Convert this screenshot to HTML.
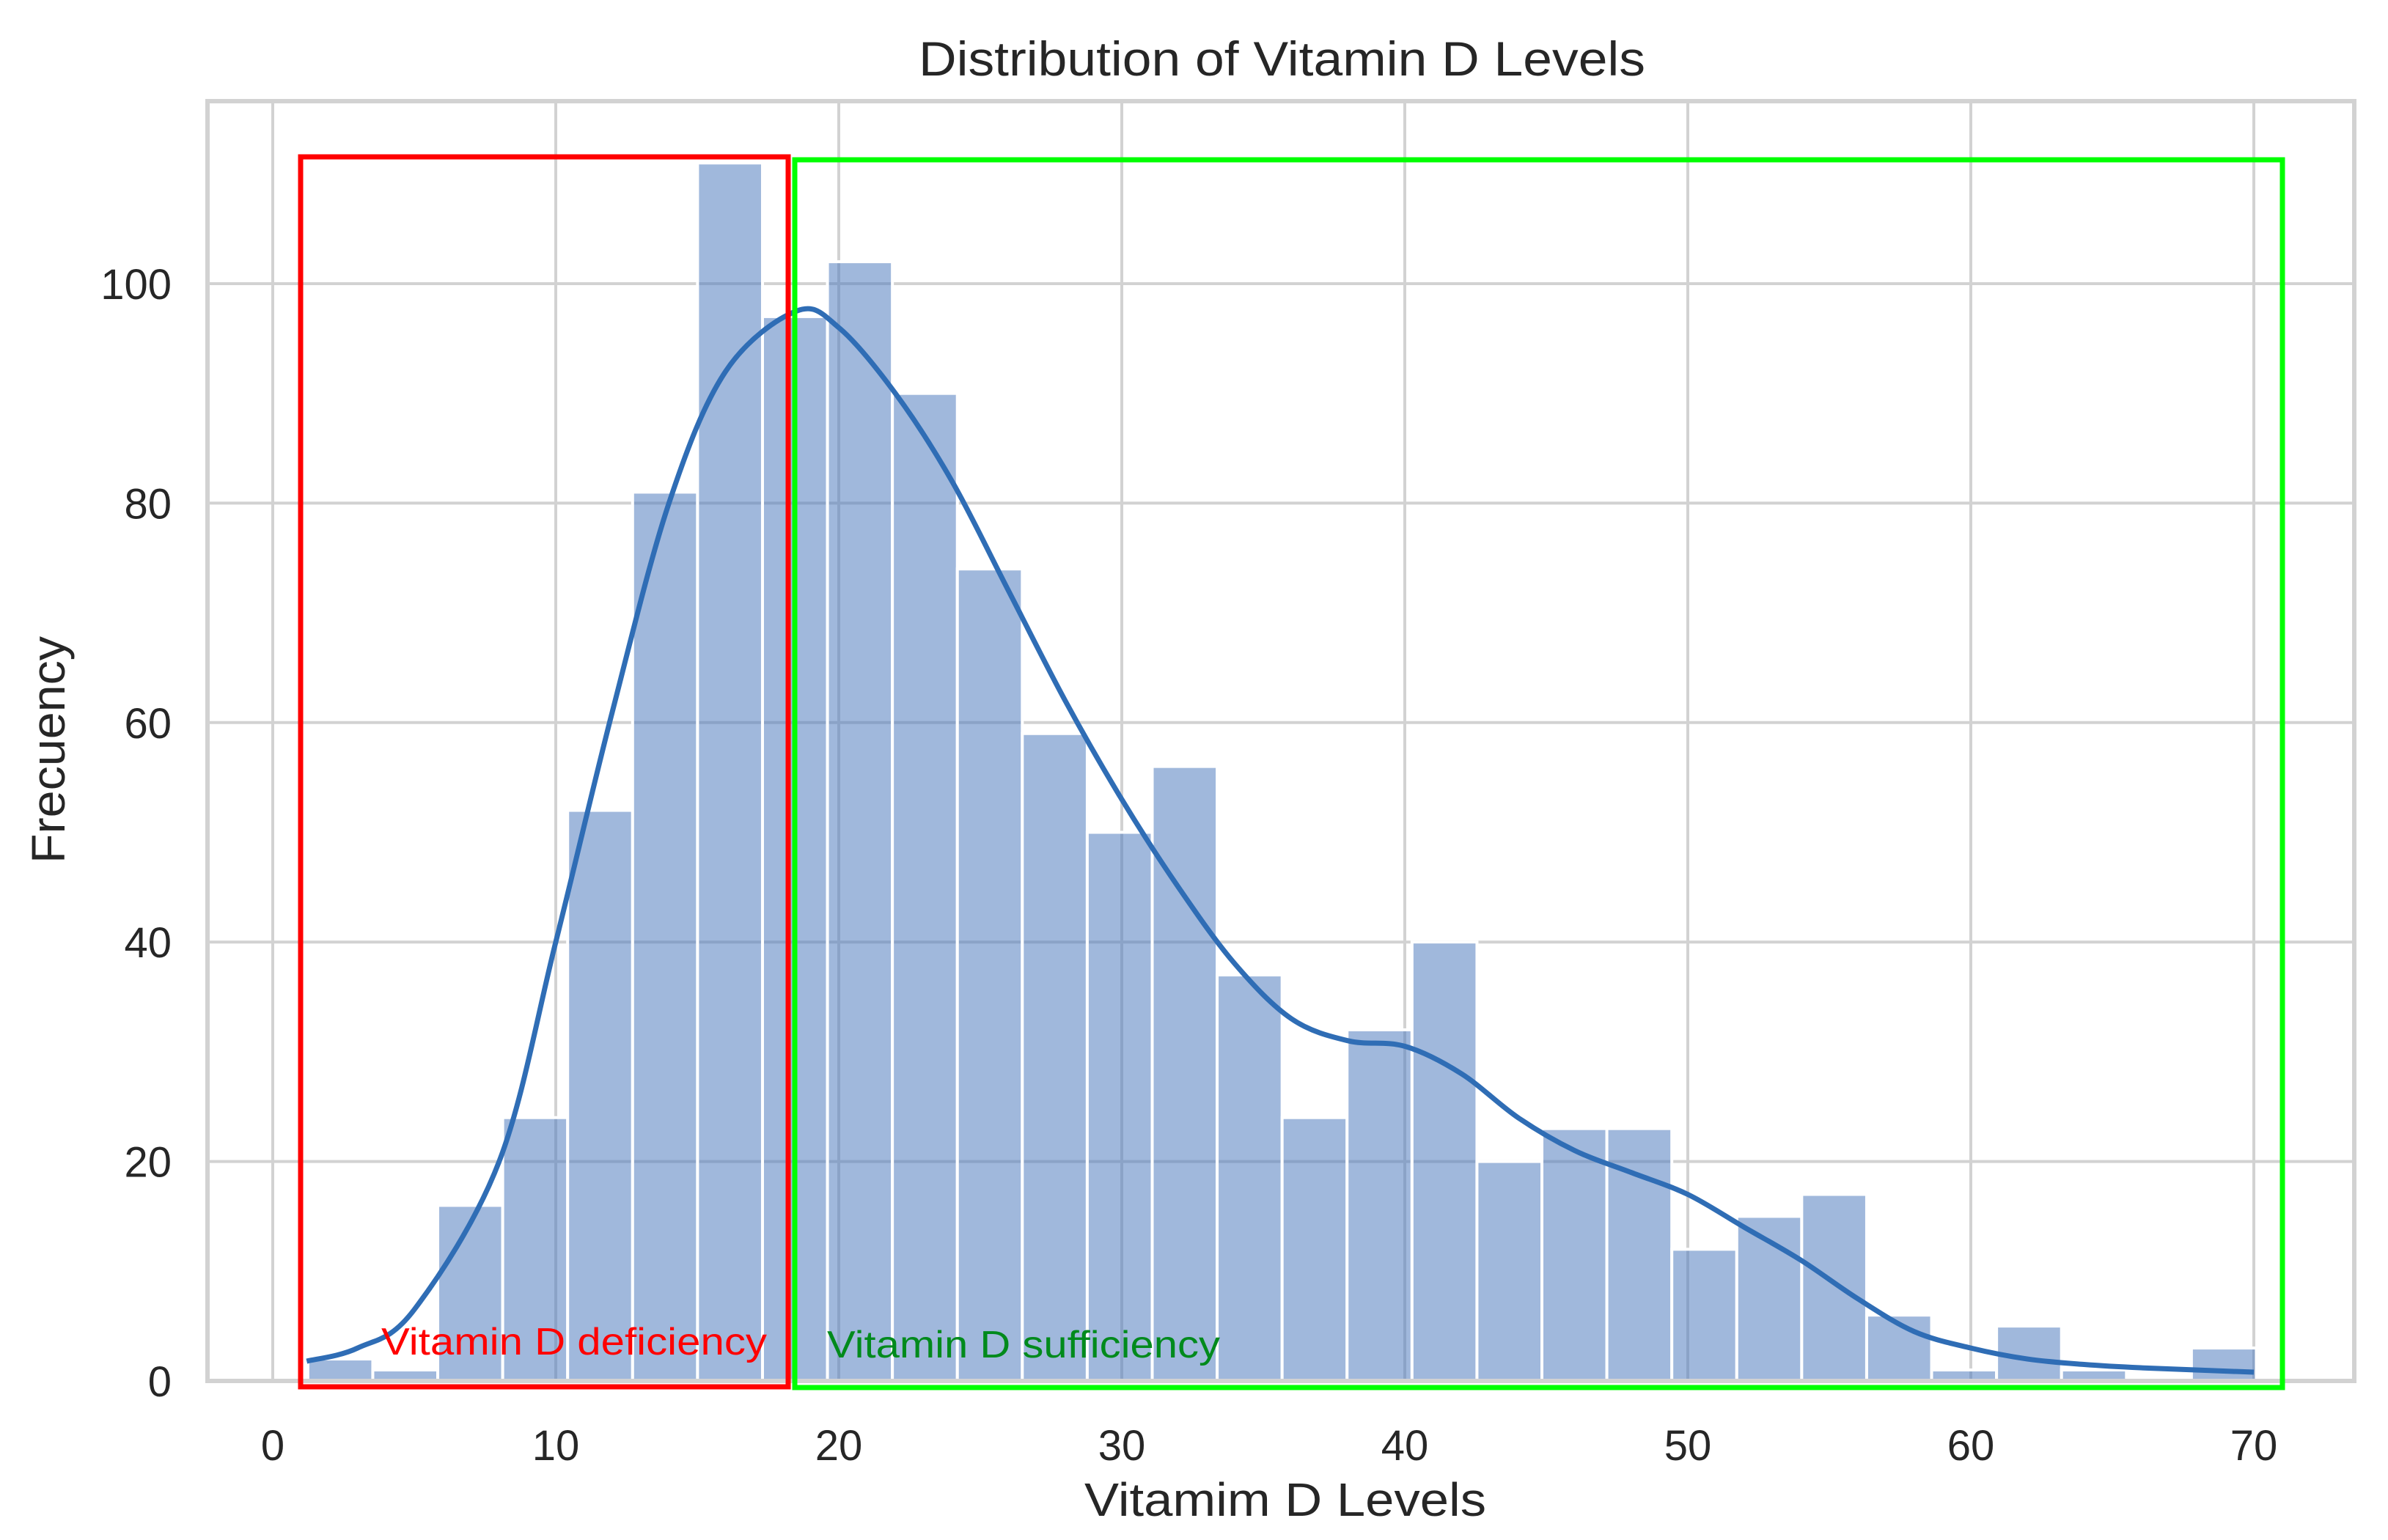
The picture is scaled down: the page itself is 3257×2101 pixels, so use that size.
<!DOCTYPE html>
<html><head><meta charset="utf-8"><style>
html,body{margin:0;padding:0;background:#fff}
svg{display:block}
text{font-family:"Liberation Sans","DejaVu Sans",sans-serif}
</style></head><body>
<svg id="chart" xmlns="http://www.w3.org/2000/svg" width="3257" height="2101" viewBox="0 0 3257 2101">
<rect x="0" y="0" width="3257" height="2101" fill="#fff"/>
<g id="grid"></g>
<g id="bars"></g>
<path id="kde" fill="none" stroke="#2f6db5" stroke-width="7"/>
<rect x="283" y="138" width="2928" height="1746" fill="none" stroke="#d2d2d2" stroke-width="6"/>
<rect x="410" y="214" width="665" height="1678" fill="none" stroke="#ff0000" stroke-width="7"/>
<rect x="1084" y="218" width="2029" height="1675" fill="none" stroke="#00ff00" stroke-width="7"/>
<text x="520" y="1848" font-size="52" fill="#ff0000" textLength="526" lengthAdjust="spacingAndGlyphs">Vitamin D deficiency</text>
<text x="1128" y="1852" font-size="52" fill="#008a1c" textLength="536" lengthAdjust="spacingAndGlyphs">Vitamin D sufficiency</text>
<g id="xticks"></g>
<g id="yticks"></g>
<text x="1253" y="103" font-size="66" fill="#262626" textLength="991" lengthAdjust="spacingAndGlyphs">Distribution of Vitamin D Levels</text>
<text x="1479" y="2068" font-size="64" fill="#262626" textLength="548" lengthAdjust="spacingAndGlyphs">Vitamim D Levels</text>
<text transform="translate(88,1178) rotate(-90)" font-size="64" fill="#262626" textLength="310" lengthAdjust="spacingAndGlyphs">Frecuency</text>
</svg>
<script>
const binStart = 1.24;
const binWidth = 2.295;
const counts = [2,1,16,24,52,81,111,97,102,90,74,59,50,56,37,24,32,40,20,23,23,12,15,17,6,1,5,1,0,3];
const kdeX = [1.2,3,5,8,10,12,14,16,18.5,20,22,24,26,28,30,32,34,36,38,40,42,44,46,48,50,52,54,56,58,60,62,64,66,70];
const kdeY = [1.8,3,6.5,20,40,61,80,92,97.5,96,90,82,72,62,53,45,38,33,31,30.5,28,24,21,19,17,14,11,7.5,4.5,3,2,1.5,1.2,0.8];
const xTicks = [0,10,20,30,40,50,60,70];
const yTicks = [0,20,40,60,80,100];
const NS = "http://www.w3.org/2000/svg";
function sx(v){ return 372 + v*38.6; }
function sy(v){ return 1884 - v*14.97; }
function mk(tag, attrs, parent){ const e=document.createElementNS(NS,tag); for(const k in attrs) e.setAttribute(k,attrs[k]); parent.appendChild(e); return e; }
const grid=document.getElementById('grid');
xTicks.forEach(t=>{
  const l=mk('line',{x1:sx(t),x2:sx(t),y1:138,y2:1884,stroke:'#d2d2d2','stroke-width':4},grid);
  
  
  const tx=mk('text',{x:sx(t),y:1992,'font-size':58,fill:'#262626','text-anchor':'middle'},document.getElementById('xticks'));
  tx.textContent=t;
  
  
});
yTicks.forEach(t=>{
  const l=mk('line',{x1:283,x2:3211,y1:sy(t),y2:sy(t),stroke:'#d2d2d2','stroke-width':4},grid);
  
  
  const tx=mk('text',{x:234,y:sy(t)+21,'font-size':58,fill:'#262626','text-anchor':'end'},document.getElementById('yticks'));
  tx.textContent=t;
  
  
});
const bars=document.getElementById('bars');
counts.forEach((c,i)=>{
  const x0=sx(binStart+i*binWidth), x1=sx(binStart+(i+1)*binWidth);
  const r=mk('rect',{x:x0,y:sy(c),width:x1-x0,height:sy(0)-sy(c),fill:'rgba(76,120,188,0.53)',stroke:'#fff','stroke-width':4},bars);
  
  
});
const pts=kdeX.map((x,i)=>[sx(x),sy(kdeY[i])]);
let d='M'+pts[0][0]+','+pts[0][1];
for(let i=0;i<pts.length-1;i++){
  const p0=pts[Math.max(0,i-1)],p1=pts[i],p2=pts[i+1],p3=pts[Math.min(pts.length-1,i+2)];
  const c1=[p1[0]+(p2[0]-p0[0])/6,p1[1]+(p2[1]-p0[1])/6];
  const c2=[p2[0]-(p3[0]-p1[0])/6,p2[1]-(p3[1]-p1[1])/6];
  d+=' C'+c1[0]+','+c1[1]+' '+c2[0]+','+c2[1]+' '+p2[0]+','+p2[1];
}
document.getElementById('kde').setAttribute('d',d);
</script>
</body></html>
